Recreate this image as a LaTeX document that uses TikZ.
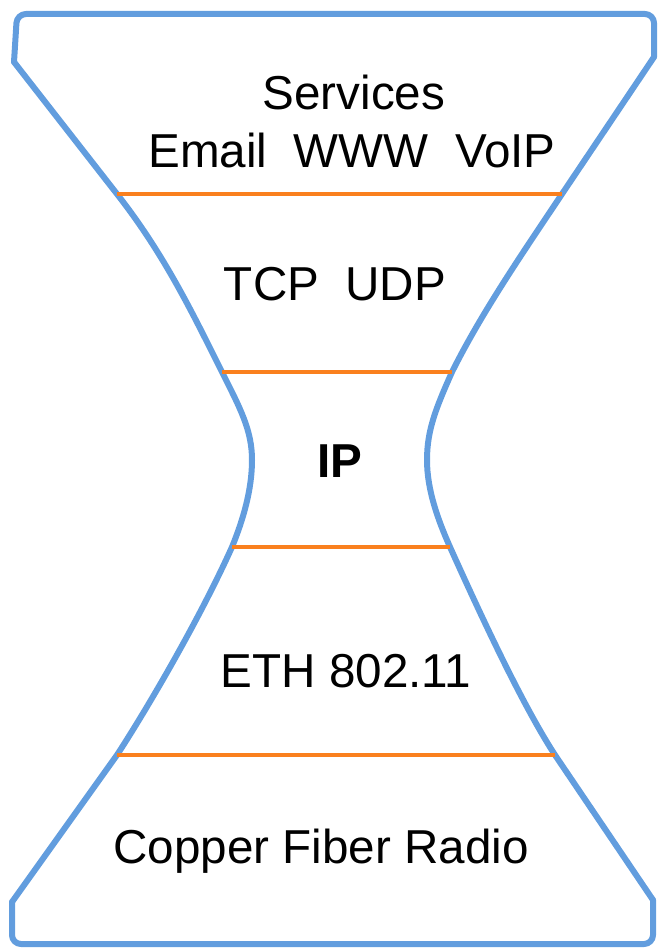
\documentclass[tikz,border=0pt]{standalone}
\usepackage{fontspec}
\setmainfont{Liberation Sans}
\definecolor{hgblue}{RGB}{98,157,222}
\definecolor{hgorange}{RGB}{250,128,30}
\begin{document}
\begin{tikzpicture}[x=1pt,y=-1pt,
  outline/.style={draw=hgblue,line width=6pt,line join=round,line cap=round},
  layerline/.style={draw=hgorange,line width=4.5pt},
  lbl/.style={inner sep=0pt,anchor=base,font=\fontsize{47.6}{57}\selectfont}]
\useasboundingbox (0,0) rectangle (659,949);
% top and bottom edges
\draw[outline,rounded corners=9pt] (14,62) -- (17,14) -- (654,14) -- (654,57);
\draw[outline,rounded corners=9pt] (12,902) -- (12,944) -- (653,944) -- (653,900);
% left side
\draw[outline] (14,62) -- (117,194)
  .. controls (164,254) and (192,312) .. (222,372)
  .. controls (240,408) and (252,430) .. (252,460)
  .. controls (252,490) and (243,520) .. (232,547)
  .. controls (200.5,617) and (149.5,705) .. (117,755)
  -- (12,902);
% right side
\draw[outline] (654,57) -- (562,194)
  .. controls (522,254) and (482,312) .. (452,372)
  .. controls (436,408) and (427,430) .. (427,460)
  .. controls (427,490) and (438,520) .. (450,547)
  .. controls (481.5,617) and (522.5,705) .. (555,755)
  -- (653,900);
% layer separators
\draw[layerline] (117,194) -- (562,194);
\draw[layerline] (222,372) -- (452,372);
\draw[layerline] (232,547) -- (450,547);
\draw[layerline] (117,755) -- (555,755);
% texts
\node[lbl] (services) at (354,110) {Services};
\node[lbl] (apps) at (352,168) {Email\ \ WWW\ \ VoIP};
\node[lbl] (transport) at (335,300) {TCP\ \ UDP};
\node[lbl,font=\fontsize{47.6}{57}\selectfont\bfseries] (ip) at (340,477) {IP};
\node[lbl] (link) at (346,687) {ETH 802.11};
\node[lbl] (phys) at (321,863) {Copper Fiber Radio};
\end{tikzpicture}
\end{document}
